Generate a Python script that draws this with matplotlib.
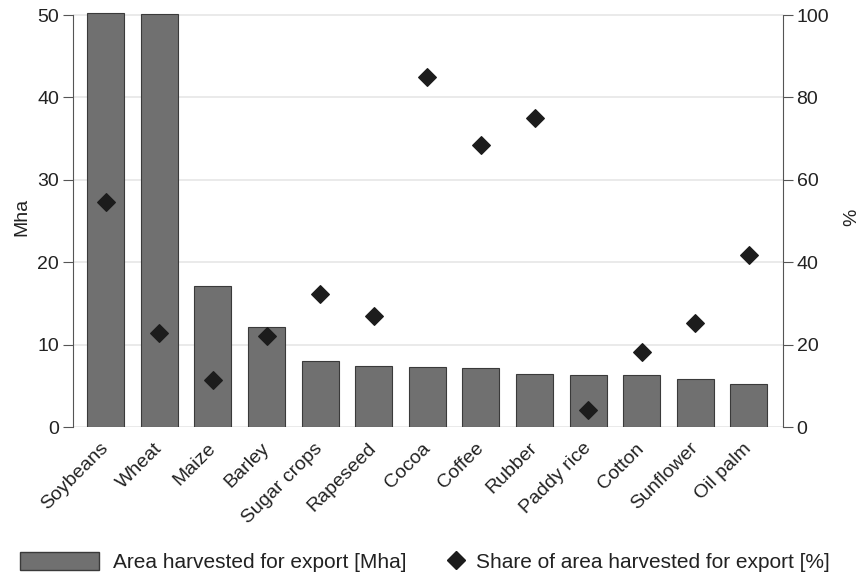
import matplotlib.pyplot as plt
import matplotlib.lines as mlines
import matplotlib.patches as patches
import matplotlib.transforms as mtransforms

plt.rcParams['font.family'] = ['Liberation Sans', 'DejaVu Sans']

crops = ['Soybeans', 'Wheat', 'Maize', 'Barley', 'Sugar crops', 'Rapeseed', 'Cocoa',
         'Coffee', 'Rubber', 'Paddy rice', 'Cotton', 'Sunflower', 'Oil palm']
area_mha = [50.3, 50.1, 17.1, 12.2, 8.0, 7.4, 7.3, 7.2, 6.5, 6.35, 6.3, 5.8, 5.3]
share_pct = [54.7, 22.8, 11.5, 22.1, 32.3, 27.1, 85.0, 68.5, 75.1, 4.2, 18.3, 25.2, 41.8]

BAR_COLOR = '#707070'
EDGE_COLOR = '#3a3a3a'
MARK_COLOR = '#1c1c1c'
GRID_COLOR = '#e6e6e6'
TEXT_COLOR = '#222222'

fig = plt.figure(figsize=(8.62, 5.76), dpi=100)
ax = fig.add_axes([0.0847, 0.2582, 0.8233, 0.73])
ax2 = ax.twinx()

x = list(range(len(crops)))
ax.bar(x, area_mha, width=0.69, color=BAR_COLOR, edgecolor=EDGE_COLOR, linewidth=0.8, zorder=2)
ax2.scatter(x, share_pct, marker='D', s=80, color=MARK_COLOR, zorder=3)

ax.set_xlim(-0.61, 12.63)
ax.set_ylim(0, 51)
ax2.set_ylim(0, 102)

# horizontal grid only
ax.set_yticks([0, 10, 20, 30, 40, 50])
ax2.set_yticks([0, 20, 40, 60, 80, 100])
ax.yaxis.grid(True, color=GRID_COLOR, linewidth=1.2, zorder=0)
ax.set_axisbelow(True)

for a in (ax, ax2):
    a.spines['top'].set_visible(False)
    a.spines['bottom'].set_visible(False)
    a.tick_params(axis='y', labelsize=14, colors='#555555', labelcolor=TEXT_COLOR,
                  length=7, width=0.8, pad=3)
ax.spines['right'].set_visible(False)
ax2.spines['left'].set_visible(False)
ax.spines['left'].set_color('#555555')
ax2.spines['right'].set_color('#555555')
ax.spines['left'].set_bounds(0, 50)
ax2.spines['right'].set_bounds(0, 100)

ax.set_xticks(x)
ax.set_xticklabels(crops, rotation=45, ha='right', va='top', rotation_mode='anchor',
                   fontsize=14, color=TEXT_COLOR)
ax.tick_params(axis='x', length=0, pad=9)
# nudge the slanted labels a little to the left
shift = mtransforms.ScaledTranslation(-0.06, 0, fig.dpi_scale_trans)
for lbl in ax.get_xticklabels():
    lbl.set_transform(lbl.get_transform() + shift)

ax.set_ylabel('Mha', fontsize=14, color=TEXT_COLOR, labelpad=5)
ax2.set_ylabel('%', fontsize=14, color=TEXT_COLOR, labelpad=10)

bar_handle = patches.Patch(facecolor=BAR_COLOR, edgecolor=EDGE_COLOR,
                           label='Area harvested for export [Mha]')
mark_handle = mlines.Line2D([], [], marker='D', linestyle='None', color=MARK_COLOR,
                            markersize=9.5, label='Share of area harvested for export [%]')

fig.legend(handles=[bar_handle], loc='center left', frameon=False, fontsize=15,
           bbox_to_anchor=(0.023, 0.0243), borderpad=0, borderaxespad=0,
           handlelength=3.8, handleheight=1.0, handletextpad=0.65,
           labelcolor=TEXT_COLOR)
fig.legend(handles=[mark_handle], loc='center left', frameon=False, fontsize=15,
           bbox_to_anchor=(0.517, 0.0243), borderpad=0, borderaxespad=0,
           handlelength=1.0, handletextpad=0.45, labelcolor=TEXT_COLOR)

fig.savefig('out.png', dpi=100, facecolor='white')
